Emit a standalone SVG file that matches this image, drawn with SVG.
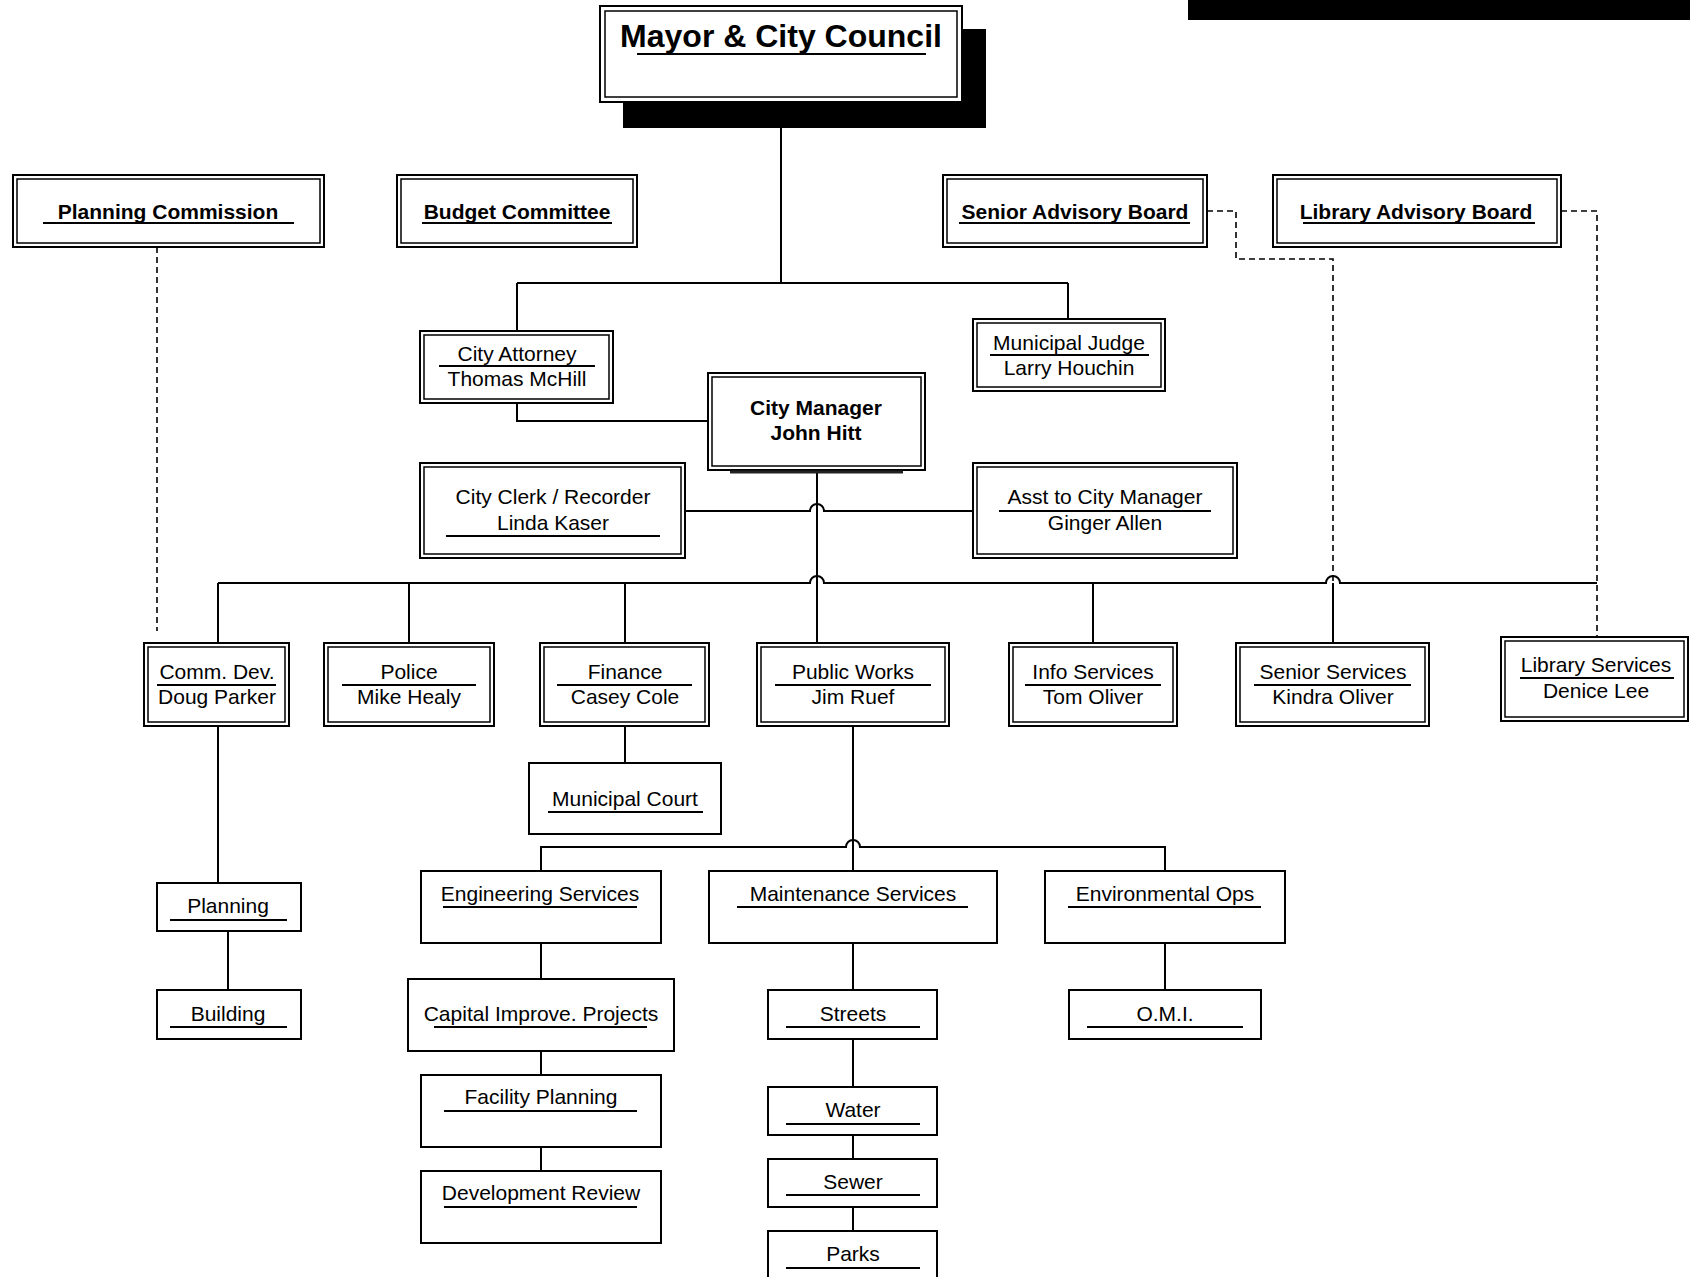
<svg xmlns="http://www.w3.org/2000/svg" width="1690" height="1277" viewBox="0 0 1690 1277">
<style>
.o{fill:#fff;stroke:#000;stroke-width:2}
.i{fill:none;stroke:#000;stroke-width:1.5}
.s{fill:#fff;stroke:#000;stroke-width:2}
.u{stroke:#000;stroke-width:2}
.t{font-family:"Liberation Sans",Arial,sans-serif;font-size:21px;text-anchor:middle;fill:#000}
.b{font-weight:bold}
.c{fill:none;stroke:#000;stroke-width:2}
.d{fill:none;stroke:#000;stroke-width:1.6;stroke-dasharray:6 4}
</style>
<rect width="1690" height="1277" fill="#fff"/>
<rect x="1188" y="0" width="502" height="20" fill="#000"/>
<g id="connectors">
<path class="c" d="M781 128V283M517 283H1068M517 283V331M1068 283V319"/>
<path class="c" d="M517 403V421H708"/>
<path class="c" d="M817 470V643"/>
<path class="c" d="M685 511H810a7 7 0 0 1 14 0H973"/>
<path class="c" d="M218 583H810a7 7 0 0 1 14 0H1326a7 7 0 0 1 14 0H1597"/>
<path class="c" d="M218 583V643M409 583V643M625 583V643M1093 583V643M1333 583V643"/>
<path class="c" d="M218 726V883M228 931V990M625 726V763"/>
<path class="c" d="M853 726V871"/>
<path class="c" d="M541 871V847H846a7 7 0 0 1 14 0H1165V871"/>
<path class="c" d="M541 943V979M541 1051V1075M541 1147V1171"/>
<path class="c" d="M853 943V990M853 1039V1087M853 1135V1159M853 1207V1231"/>
<path class="c" d="M1165 943V990"/>
<path class="d" d="M157 247V631"/>
<path class="d" d="M1207 211H1236V259H1333V583"/>
<path class="d" d="M1561 211H1597V637"/>
</g>
<g id="mayor">
<rect x="623" y="29" width="363" height="99" fill="#000"/>
<rect class="o" x="600" y="6" width="362" height="96"/>
<rect class="i" x="605" y="11" width="352" height="86"/>
<text class="t b" x="781" y="47" style="font-size:32px">Mayor &amp; City Council</text>
<line class="u" x1="637" y1="54" x2="926" y2="54"/>
</g>
<g id="planning-commission">
<rect class="o" x="13" y="175" width="311" height="72"/><rect class="i" x="17" y="179" width="303" height="64"/>
<text class="t b" x="168" y="219">Planning Commission</text><line class="u" x1="43" y1="223" x2="294" y2="223"/>
</g>
<g id="budget-committee">
<rect class="o" x="397" y="175" width="240" height="72"/><rect class="i" x="401" y="179" width="232" height="64"/>
<text class="t b" x="517" y="219">Budget Committee</text><line class="u" x1="422" y1="223" x2="612" y2="223"/>
</g>
<g id="senior-advisory-board">
<rect class="o" x="943" y="175" width="264" height="72"/><rect class="i" x="947" y="179" width="256" height="64"/>
<text class="t b" x="1075" y="219">Senior Advisory Board</text><line class="u" x1="959" y1="223" x2="1190" y2="223"/>
</g>
<g id="library-advisory-board">
<rect class="o" x="1273" y="175" width="288" height="72"/><rect class="i" x="1277" y="179" width="280" height="64"/>
<text class="t b" x="1416" y="219">Library Advisory Board</text><line class="u" x1="1303" y1="223" x2="1535" y2="223"/>
</g>
<g id="city-attorney">
<rect class="o" x="420" y="331" width="193" height="72"/><rect class="i" x="424" y="335" width="185" height="64"/>
<text class="t" x="517" y="361">City Attorney</text><line class="u" x1="439" y1="366" x2="595" y2="366"/>
<text class="t" x="517" y="386">Thomas McHill</text>
</g>
<g id="municipal-judge">
<rect class="o" x="973" y="319" width="192" height="72"/><rect class="i" x="977" y="323" width="184" height="64"/>
<text class="t" x="1069" y="350">Municipal Judge</text><line class="u" x1="990" y1="355" x2="1149" y2="355"/>
<text class="t" x="1069" y="375">Larry Houchin</text>
</g>
<g id="city-manager">
<rect class="o" x="708" y="373" width="217" height="97"/><rect class="i" x="712" y="377" width="209" height="89"/>
<text class="t b" x="816" y="415">City Manager</text>
<text class="t b" x="816" y="440">John Hitt</text>
<line x1="730" y1="472" x2="903" y2="472" stroke="#222" stroke-width="3"/>
</g>
<g id="city-clerk">
<rect class="o" x="420" y="463" width="265" height="95"/><rect class="i" x="424" y="467" width="257" height="87"/>
<text class="t" x="553" y="504">City Clerk / Recorder</text>
<text class="t" x="553" y="530">Linda Kaser</text><line class="u" x1="446" y1="536" x2="660" y2="536"/>
</g>
<g id="asst-city-manager">
<rect class="o" x="973" y="463" width="264" height="95"/><rect class="i" x="977" y="467" width="256" height="87"/>
<text class="t" x="1105" y="504">Asst to City Manager</text><line class="u" x1="999" y1="511" x2="1211" y2="511"/>
<text class="t" x="1105" y="530">Ginger Allen</text>
</g>
<g id="comm-dev">
<rect class="o" x="144" y="643" width="145" height="83"/><rect class="i" x="148" y="647" width="137" height="75"/>
<text class="t" x="217" y="679">Comm. Dev.</text><line class="u" x1="157" y1="685" x2="276" y2="685"/>
<text class="t" x="217" y="704">Doug Parker</text>
</g>
<g id="police">
<rect class="o" x="324" y="643" width="170" height="83"/><rect class="i" x="328" y="647" width="162" height="75"/>
<text class="t" x="409" y="679">Police</text><line class="u" x1="342" y1="685" x2="476" y2="685"/>
<text class="t" x="409" y="704">Mike Healy</text>
</g>
<g id="finance">
<rect class="o" x="540" y="643" width="169" height="83"/><rect class="i" x="544" y="647" width="161" height="75"/>
<text class="t" x="625" y="679">Finance</text><line class="u" x1="557" y1="685" x2="692" y2="685"/>
<text class="t" x="625" y="704">Casey Cole</text>
</g>
<g id="public-works">
<rect class="o" x="757" y="643" width="192" height="83"/><rect class="i" x="761" y="647" width="184" height="75"/>
<text class="t" x="853" y="679">Public Works</text><line class="u" x1="775" y1="685" x2="931" y2="685"/>
<text class="t" x="853" y="704">Jim Ruef</text>
</g>
<g id="info-services">
<rect class="o" x="1009" y="643" width="168" height="83"/><rect class="i" x="1013" y="647" width="160" height="75"/>
<text class="t" x="1093" y="679">Info Services</text><line class="u" x1="1025" y1="685" x2="1161" y2="685"/>
<text class="t" x="1093" y="704">Tom Oliver</text>
</g>
<g id="senior-services">
<rect class="o" x="1236" y="643" width="193" height="83"/><rect class="i" x="1240" y="647" width="185" height="75"/>
<text class="t" x="1333" y="679">Senior Services</text><line class="u" x1="1254" y1="685" x2="1411" y2="685"/>
<text class="t" x="1333" y="704">Kindra Oliver</text>
</g>
<g id="library-services">
<rect class="o" x="1501" y="637" width="187" height="84"/><rect class="i" x="1505" y="641" width="179" height="76"/>
<text class="t" x="1596" y="672">Library Services</text><line class="u" x1="1520" y1="678" x2="1674" y2="678"/>
<text class="t" x="1596" y="698">Denice Lee</text>
</g>
<g id="municipal-court">
<rect class="s" x="529" y="763" width="192" height="71"/>
<text class="t" x="625" y="806">Municipal Court</text><line class="u" x1="548" y1="812" x2="703" y2="812"/>
</g>
<g id="planning">
<rect class="s" x="157" y="883" width="144" height="48"/>
<text class="t" x="228" y="913">Planning</text><line class="u" x1="170" y1="920" x2="287" y2="920"/>
</g>
<g id="building">
<rect class="s" x="157" y="990" width="144" height="49"/>
<text class="t" x="228" y="1021">Building</text><line class="u" x1="170" y1="1027" x2="287" y2="1027"/>
</g>
<g id="engineering-services">
<rect class="s" x="421" y="871" width="240" height="72"/>
<text class="t" x="540" y="901">Engineering Services</text><line class="u" x1="443" y1="907" x2="637" y2="907"/>
</g>
<g id="maintenance-services">
<rect class="s" x="709" y="871" width="288" height="72"/>
<text class="t" x="853" y="901">Maintenance Services</text><line class="u" x1="737" y1="907" x2="968" y2="907"/>
</g>
<g id="environmental-ops">
<rect class="s" x="1045" y="871" width="240" height="72"/>
<text class="t" x="1165" y="901">Environmental Ops</text><line class="u" x1="1068" y1="907" x2="1261" y2="907"/>
</g>
<g id="capital-improve">
<rect class="s" x="408" y="979" width="266" height="72"/>
<text class="t" x="541" y="1021">Capital Improve. Projects</text><line class="u" x1="434" y1="1027" x2="647" y2="1027"/>
</g>
<g id="facility-planning">
<rect class="s" x="421" y="1075" width="240" height="72"/>
<text class="t" x="541" y="1104">Facility Planning</text><line class="u" x1="444" y1="1111" x2="637" y2="1111"/>
</g>
<g id="development-review">
<rect class="s" x="421" y="1171" width="240" height="72"/>
<text class="t" x="541" y="1200">Development Review</text><line class="u" x1="444" y1="1207" x2="637" y2="1207"/>
</g>
<g id="streets">
<rect class="s" x="768" y="990" width="169" height="49"/>
<text class="t" x="853" y="1021">Streets</text><line class="u" x1="786" y1="1027" x2="920" y2="1027"/>
</g>
<g id="water">
<rect class="s" x="768" y="1087" width="169" height="48"/>
<text class="t" x="853" y="1117">Water</text><line class="u" x1="786" y1="1124" x2="920" y2="1124"/>
</g>
<g id="sewer">
<rect class="s" x="768" y="1159" width="169" height="48"/>
<text class="t" x="853" y="1189">Sewer</text><line class="u" x1="786" y1="1195" x2="920" y2="1195"/>
</g>
<g id="parks">
<rect class="s" x="768" y="1231" width="169" height="60"/>
<text class="t" x="853" y="1261">Parks</text><line class="u" x1="786" y1="1268" x2="920" y2="1268"/>
</g>
<g id="omi">
<rect class="s" x="1069" y="990" width="192" height="49"/>
<text class="t" x="1165" y="1021">O.M.I.</text><line class="u" x1="1087" y1="1027" x2="1243" y2="1027"/>
</g>
</svg>
